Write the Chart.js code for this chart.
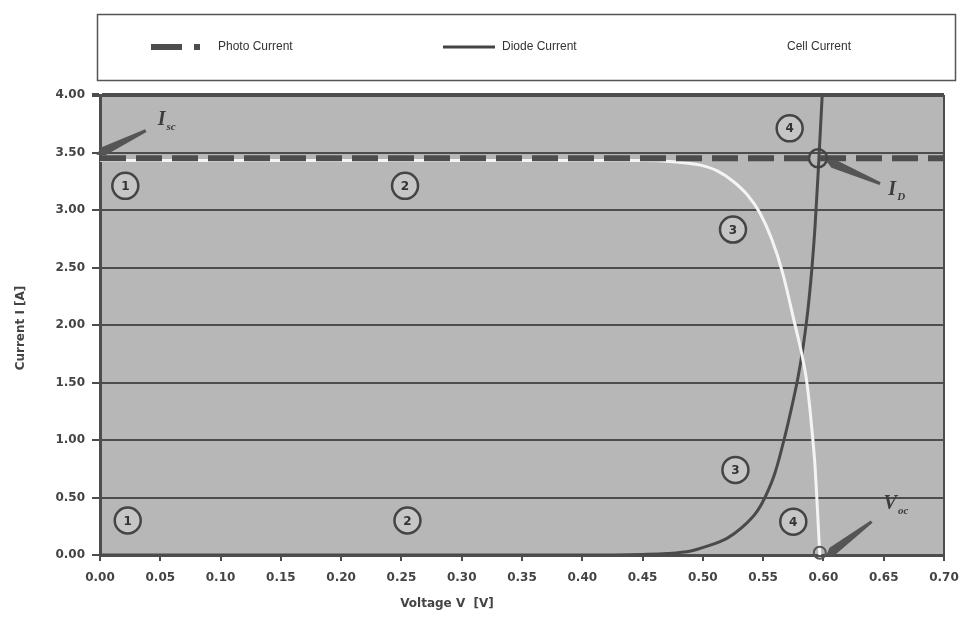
<!DOCTYPE html>
<html><head><meta charset="utf-8">
<script src="https://cdn.jsdelivr.net/npm/chart.js@4"></script>
<style>html,body{margin:0;padding:0;background:#fff;}canvas{display:block}</style>
</head><body>
<canvas id="c" width="965" height="619"></canvas>
<script>
// ---- data ----
const xTickValues = [0,0.05,0.10,0.15,0.20,0.25,0.30,0.35,0.40,0.45,0.50,0.55,0.60,0.65,0.70];
const xTickLabels = ['0.00','0.05','0.10','0.15','0.20','0.25','0.30','0.35','0.40','0.45','0.50','0.55','0.60','0.65','0.70'];
const yTickValues = [0,0.5,1.0,1.5,2.0,2.5,3.0,3.5,4.0];
const yTickLabels = ['0.00','0.50','1.00','1.50','2.00','2.50','3.00','3.50','4.00'];
const seriesNames = ['Photo Current','Diode Current','Cell Current'];

const photoV = [0.00, 0.70];
const photoI = [3.45, 3.45];

const diodeV = [0.00, 0.40, 0.45, 0.47, 0.49, 0.503, 0.52, 0.532, 0.545, 0.5515, 0.56, 0.568, 0.574, 0.579, 0.583, 0.587, 0.5905, 0.593, 0.5955, 0.5975, 0.599];
const diodeI = [0.00, 0.00, 0.005, 0.012, 0.035, 0.075, 0.145, 0.235, 0.38, 0.50, 0.72, 1.03, 1.30, 1.55, 1.80, 2.12, 2.50, 2.85, 3.30, 3.70, 4.00];

const cellV = [0.00, 0.30, 0.45, 0.475, 0.498, 0.512, 0.525, 0.537, 0.547, 0.557, 0.566, 0.576, 0.582, 0.586, 0.589, 0.591, 0.593, 0.5945, 0.596, 0.597];
const cellI = [3.43, 3.43, 3.43, 3.42, 3.39, 3.34, 3.25, 3.13, 2.98, 2.75, 2.46, 2.02, 1.75, 1.52, 1.25, 1.03, 0.78, 0.50, 0.20, 0.00];

// circled region numbers (in data units)
const markerLabels = ['1','1','2','2','3','3','4','4'];
const markerV = [0.021, 0.023, 0.253, 0.255, 0.525, 0.527, 0.575, 0.572];
const markerI = [3.21, 0.30, 3.21, 0.30, 2.83, 0.74, 0.29, 3.71];

const pts = (xs, ys) => xs.map((x, i) => ({x: x, y: ys[i]}));

const GRAY = '#4d4d4d';

const decor = {
  id: 'decor',
  beforeDraw(chart) {
    const {ctx, chartArea: a} = chart;
    ctx.save();
    ctx.fillStyle = '#b7b7b7';
    ctx.fillRect(a.left, a.top, a.right - a.left, a.bottom - a.top);
    ctx.restore();
  },
  afterDatasetsDraw(chart) {
    const {ctx, chartArea: a, scales: {x, y}} = chart;
    const px = v => x.getPixelForValue(v), py = v => y.getPixelForValue(v);
    ctx.save();
    // right border
    ctx.strokeStyle = GRAY; ctx.lineWidth = 2;
    ctx.beginPath(); ctx.moveTo(a.right, a.top); ctx.lineTo(a.right, a.bottom); ctx.stroke();
    // circled numbers
    for (let i = 0; i < markerLabels.length; i++) {
      const cx = px(markerV[i]), cy = py(markerI[i]);
      ctx.beginPath(); ctx.arc(cx, cy, 13, 0, Math.PI * 2);
      ctx.fillStyle = '#c6c6c6'; ctx.fill();
      ctx.lineWidth = 2.5; ctx.strokeStyle = '#444'; ctx.stroke();
      ctx.fillStyle = '#333'; ctx.font = 'bold 12px "DejaVu Sans"';
      ctx.textAlign = 'center'; ctx.textBaseline = 'middle';
      ctx.fillText(markerLabels[i], cx, cy + 1);
    }
    // intersection ring
    ctx.beginPath(); ctx.arc(px(0.5955), py(3.45), 9, 0, Math.PI * 2);
    ctx.lineWidth = 2.5; ctx.strokeStyle = '#444'; ctx.stroke();
    ctx.beginPath(); ctx.arc(px(0.597), py(0.02), 6, 0, Math.PI * 2);
    ctx.lineWidth = 2; ctx.strokeStyle = '#555'; ctx.stroke();
    // arrows
    const arrow = (v1, i1, v2, i2) => {
      const x1 = px(v1), y1 = py(i1), x2 = px(v2), y2 = py(i2);
      const ang = Math.atan2(y2 - y1, x2 - x1), nx = -Math.sin(ang), ny = Math.cos(ang);
      ctx.beginPath();
      ctx.moveTo(x1 + nx * 1.5, y1 + ny * 1.5);
      ctx.lineTo(x2 - Math.cos(ang) * 8 + nx * 4.5, y2 - Math.sin(ang) * 8 + ny * 4.5);
      ctx.lineTo(x2, y2);
      ctx.lineTo(x2 - Math.cos(ang) * 8 - nx * 4.5, y2 - Math.sin(ang) * 8 - ny * 4.5);
      ctx.lineTo(x1 - nx * 1.5, y1 - ny * 1.5);
      ctx.closePath();
      ctx.fillStyle = '#555'; ctx.fill();
    };
    arrow(0.038, 3.69, -0.003, 3.48);
    arrow(0.647, 3.23, 0.602, 3.43);
    arrow(0.640, 0.29, 0.602, -0.01);
    // symbol labels
    const sym = (main, sub, v, i) => {
      const tx = px(v), ty = py(i);
      ctx.fillStyle = '#3c3c3c'; ctx.textAlign = 'left'; ctx.textBaseline = 'alphabetic';
      ctx.font = 'bold italic 20px "Liberation Serif"';
      ctx.fillText(main, tx - 5, ty + 7);
      const w = ctx.measureText(main).width;
      ctx.font = 'bold italic 11px "Liberation Serif"';
      ctx.fillText(sub, tx - 5 + w + 1, ty + 12);
    };
    sym('I', 'sc', 0.052, 3.80);
    sym('I', 'D', 0.658, 3.19);
    sym('V', 'oc', 0.654, 0.46);
    ctx.restore();
  },
  afterDraw(chart) {
    const {ctx} = chart;
    ctx.save();
    // legend box
    ctx.strokeStyle = '#555'; ctx.lineWidth = 1.5;
    ctx.strokeRect(97.5, 14.5, 858, 66);
    const ly = 47;
    ctx.lineCap = 'butt';
    ctx.strokeStyle = GRAY; ctx.lineWidth = 6; ctx.setLineDash([31, 12]);
    ctx.beginPath(); ctx.moveTo(151, ly); ctx.lineTo(200, ly); ctx.stroke();
    ctx.setLineDash([]);
    ctx.lineWidth = 3; ctx.strokeStyle = '#444';
    ctx.beginPath(); ctx.moveTo(443, ly); ctx.lineTo(495, ly); ctx.stroke();
    ctx.strokeStyle = '#ffffff';
    ctx.beginPath(); ctx.moveTo(733, ly); ctx.lineTo(782, ly); ctx.stroke();
    ctx.fillStyle = '#333'; ctx.font = '12px "Liberation Sans"';
    ctx.textAlign = 'left'; ctx.textBaseline = 'middle';
    ctx.fillText(seriesNames[0], 218, ly);
    ctx.fillText(seriesNames[1], 502, ly);
    ctx.fillText(seriesNames[2], 787, ly);
    // axis titles
    ctx.fillStyle = '#444'; ctx.font = 'bold 12px "DejaVu Sans"';
    ctx.textAlign = 'center';
    ctx.fillText('Voltage V  [V]', 447, 604);
    ctx.translate(21, 328); ctx.rotate(-Math.PI / 2);
    ctx.fillText('Current I [A]', 0, 0);
    ctx.restore();
  }
};

new Chart(document.getElementById('c'), {
  type: 'scatter',
  data: {
    datasets: [
      { label: seriesNames[1], data: pts(diodeV, diodeI), showLine: true, borderColor: '#4a4a4a',
        borderWidth: 3, pointRadius: 0, cubicInterpolationMode: 'monotone', order: 3 },
      { label: seriesNames[2], data: pts(cellV, cellI), showLine: true, borderColor: '#f4f4f4',
        borderWidth: 3, pointRadius: 0, cubicInterpolationMode: 'monotone', order: 2 },
      { label: seriesNames[0], data: pts(photoV, photoI), showLine: true, borderColor: GRAY,
        borderWidth: 6, borderDash: [26, 10], pointRadius: 0, order: 1 }
    ]
  },
  options: {
    responsive: false, animation: false, devicePixelRatio: 1,
    layout: { padding: { left: 0, right: 21, top: 95, bottom: 0 } },
    plugins: { legend: { display: false }, tooltip: { enabled: false } },
    scales: {
      x: {
        type: 'linear', min: 0, max: 0.70,
        afterBuildTicks: s => { s.ticks = xTickValues.map(v => ({ value: v })); },
        afterFit: s => { s.height = 64; s.paddingLeft = 0; s.paddingRight = 0; },
        ticks: { callback: (v, i) => xTickLabels[i], font: { family: 'DejaVu Sans', size: 12, weight: 'bold' },
                 color: '#444', padding: 10, maxRotation: 0, autoSkip: false },
        grid: { drawOnChartArea: false, drawTicks: true, tickLength: 6, color: GRAY, lineWidth: 2 },
        border: { display: true, color: GRAY, width: 3 }
      },
      y: {
        type: 'linear', min: 0, max: 4,
        afterBuildTicks: s => { s.ticks = yTickValues.map(v => ({ value: v })); },
        afterFit: s => { s.width = 100; },
        ticks: { callback: (v, i) => yTickLabels[i], font: { family: 'DejaVu Sans', size: 12, weight: 'bold' },
                 color: '#444', padding: 7, autoSkip: false },
        grid: { color: GRAY, lineWidth: c => (c.tick && c.tick.value === 4 ? 4 : 2), tickLength: 8 },
        border: { display: true, color: GRAY, width: 3 }
      }
    }
  },
  plugins: [decor]
});
</script>
</body></html>
